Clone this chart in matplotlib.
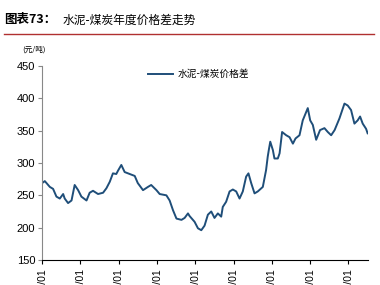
import matplotlib.pyplot as plt
import matplotlib.dates as mdates
import pandas as pd

plt.rcParams['font.family'] = ['Liberation Sans', 'Noto Sans CJK SC', 'DejaVu Sans']

# 水泥-煤炭价格差 (元/吨), 读图估计
date = ['2010-01-01', '2010-01-26', '2010-03-15', '2010-04-15', '2010-05-17', '2010-06-18',
        '2010-07-20', '2010-08-04', '2010-09-05', '2010-10-08', '2010-11-07', '2010-12-10',
        '2011-01-10', '2011-02-28', '2011-03-30', '2011-05-01', '2011-06-18', '2011-08-05',
        '2011-09-06', '2011-10-08', '2011-11-07', '2011-12-09', '2011-12-25', '2012-01-26',
        '2012-02-27', '2012-04-15', '2012-06-02', '2012-07-01', '2012-08-20', '2012-10-06',
        '2012-11-06', '2012-12-26', '2013-01-26', '2013-03-31', '2013-05-01', '2013-06-02',
        '2013-07-05', '2013-08-22', '2013-09-21', '2013-10-23', '2013-11-07', '2013-12-25',
        '2014-01-26', '2014-02-27', '2014-03-30', '2014-05-01', '2014-06-02', '2014-07-03',
        '2014-08-04', '2014-09-05', '2014-09-20', '2014-10-22', '2014-11-24', '2014-12-25',
        '2015-01-26', '2015-02-27', '2015-03-30', '2015-05-01', '2015-05-23', '2015-06-18',
        '2015-07-20', '2015-08-20', '2015-10-07', '2015-11-07', '2015-11-23', '2015-12-03',
        '2015-12-17', '2016-01-11', '2016-01-26', '2016-02-27', '2016-03-15', '2016-04-08',
        '2016-05-17', '2016-06-18', '2016-07-20', '2016-08-14', '2016-09-21', '2016-10-22',
        '2016-12-09', '2017-01-01', '2017-01-26', '2017-02-27', '2017-04-05', '2017-05-17',
        '2017-06-18', '2017-07-20', '2017-08-22', '2017-10-07', '2017-11-24', '2017-12-25',
        '2018-01-26', '2018-02-27', '2018-03-30', '2018-04-22', '2018-05-17', '2018-06-18',
        '2018-07-03']
spread = [269, 272, 263, 260, 248, 245,
          252, 245, 238, 242, 266, 258,
          248, 242, 254, 257, 252, 254,
          261, 271, 284, 283, 288, 297,
          286, 283, 280, 269, 258, 263,
          266, 258, 252, 250, 242, 227,
          214, 212, 215, 222, 218, 209,
          199, 196, 203, 220, 225, 215,
          222, 217, 232, 240, 256, 259,
          256, 245, 256, 279, 284, 269,
          253, 256, 263, 289, 310, 320,
          333, 320, 307, 307, 315, 348,
          343, 340, 330, 338, 343, 366,
          385, 366, 359, 336, 351, 354,
          348, 343, 351, 369, 392, 389,
          382, 361, 366, 372, 361, 353,
          346]
xticks = ['2010-01-01', '2011-01-01', '2012-01-01', '2013-01-01', '2014-01-01',
          '2015-01-01', '2016-01-01', '2017-01-01', '2018-01-01']
yticks = [150, 200, 250, 300, 350, 400, 450]

x = pd.to_datetime(date)

fig = plt.figure(figsize=(3.8, 2.85), dpi=100)
ax = fig.add_axes([0.111, 0.088, 0.857, 0.68])
ax.plot(x, spread, color='#1f4e79', lw=1.4, label='水泥-煤炭价格差')

ax.set_ylim(150, 450)
ax.set_yticks(yticks)
ax.set_xlim(pd.Timestamp('2010-01-01'), pd.Timestamp('2018-07-05'))
ax.set_xticks(pd.to_datetime(xticks))
ax.xaxis.set_major_formatter(mdates.DateFormatter('%Y/%m'))
plt.setp(ax.get_xticklabels(), rotation=90, va='top', ha='center')

ax.spines['top'].set_visible(False)
ax.spines['right'].set_visible(False)
ax.spines['left'].set_color('#888888')
ax.spines['bottom'].set_color('black')
ax.tick_params(axis='y', labelsize=8, length=3, color='#888888', pad=2)
ax.tick_params(axis='x', labelsize=7.5, length=3, color='black', pad=3)

leg = ax.legend(loc='upper center', bbox_to_anchor=(0.48, 1.03), frameon=False,
                fontsize=7, handlelength=2.6, handletextpad=0.5)
for t in leg.get_texts():
    t.set_family(['Noto Sans CJK SC'])

# 标题和单位
fig.text(0.012, 0.93, '图表73：', fontsize=9, fontweight='bold', va='center',
         family=['Noto Sans CJK SC'])
fig.text(0.165, 0.93, '水泥-煤炭年度价格差走势', fontsize=8.5, va='center',
         family=['Noto Sans CJK SC'])
fig.add_artist(plt.Line2D([0.01, 0.985], [0.88, 0.88], color='#b03030', lw=1.0))
fig.text(0.058, 0.825, '(元/吨)', fontsize=5.5, va='center', family=['Noto Sans CJK SC'])

plt.savefig('out.png', dpi=100)
